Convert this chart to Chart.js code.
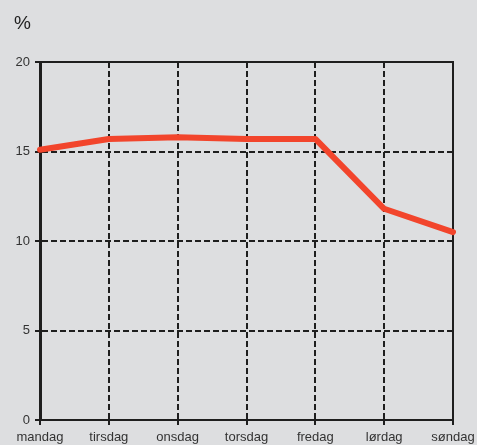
<!DOCTYPE html>
<html>
<head>
<meta charset="utf-8">
<script src="https://cdn.jsdelivr.net/npm/chart.js@4.4.0/dist/chart.umd.min.js"></script>
<style>
  html, body { margin: 0; padding: 0; background: #dddee0; }
</style>
</head>
<body>
<canvas id="chart" width="477" height="445"></canvas>
<script>
const days = ['mandag', 'tirsdag', 'onsdag', 'torsdag', 'fredag', 'lørdag', 'søndag'];
const share = [15.1, 15.7, 15.8, 15.7, 15.7, 11.8, 10.5];
const yTicks = [0, 5, 10, 15, 20];

const font = { family: '"Liberation Sans", Arial, sans-serif', size: 13 };

// solid frame on top and right of the plot area
const frame = {
  id: 'frame',
  beforeDatasetsDraw(chart) {
    const { ctx, chartArea: a } = chart;
    ctx.save();
    ctx.strokeStyle = '#1e1e1e';
    ctx.lineWidth = 2;
    ctx.setLineDash([]);
    ctx.beginPath();
    ctx.moveTo(a.left, a.top);
    ctx.lineTo(a.right, a.top);
    ctx.lineTo(a.right, a.bottom);
    ctx.stroke();
    ctx.restore();
  }
};

new Chart(document.getElementById('chart'), {
  type: 'line',
  data: {
    labels: days,
    datasets: [{
      data: share,
      borderColor: '#f2452c',
      borderWidth: 6,
      borderCapStyle: 'round',
      borderJoinStyle: 'round',
      pointRadius: 0,
      tension: 0
    }]
  },
  options: {
    responsive: false,
    animation: false,
    layout: { padding: { left: 14, right: 24, top: 12, bottom: 0 } },
    plugins: {
      legend: { display: false },
      tooltip: { enabled: false },
      title: {
        display: true,
        text: '%',
        align: 'start',
        color: '#222',
        font: { family: font.family, size: 19, weight: 'normal' },
        padding: { top: 0, bottom: 27.2 }
      }
    },
    scales: {
      x: {
        offset: false,
        grid: { color: '#1e1e1e', lineWidth: 2, tickLength: 5, tickColor: '#1e1e1e', tickWidth: 2 },
        border: { display: true, color: '#1e1e1e', width: 2, dash: [6, 3] },
        ticks: { color: '#333', font: font, padding: 5, maxRotation: 0, autoSkip: false },
        afterFit(s) { s.height = 25; s.paddingRight = 0; s.paddingLeft = 0; }
      },
      y: {
        min: 0,
        max: 20,
        afterBuildTicks(s) { s.ticks = yTicks.map(v => ({ value: v })); },
        grid: { color: '#1e1e1e', lineWidth: 2, tickLength: 5, tickColor: '#1e1e1e', tickWidth: 2 },
        border: { display: true, color: '#1e1e1e', width: 3, dash: [6, 3] },
        ticks: { color: '#333', font: font, padding: 5 },
        afterFit(s) { s.width = 26; }
      }
    }
  },
  plugins: [frame]
});
</script>
</body>
</html>
